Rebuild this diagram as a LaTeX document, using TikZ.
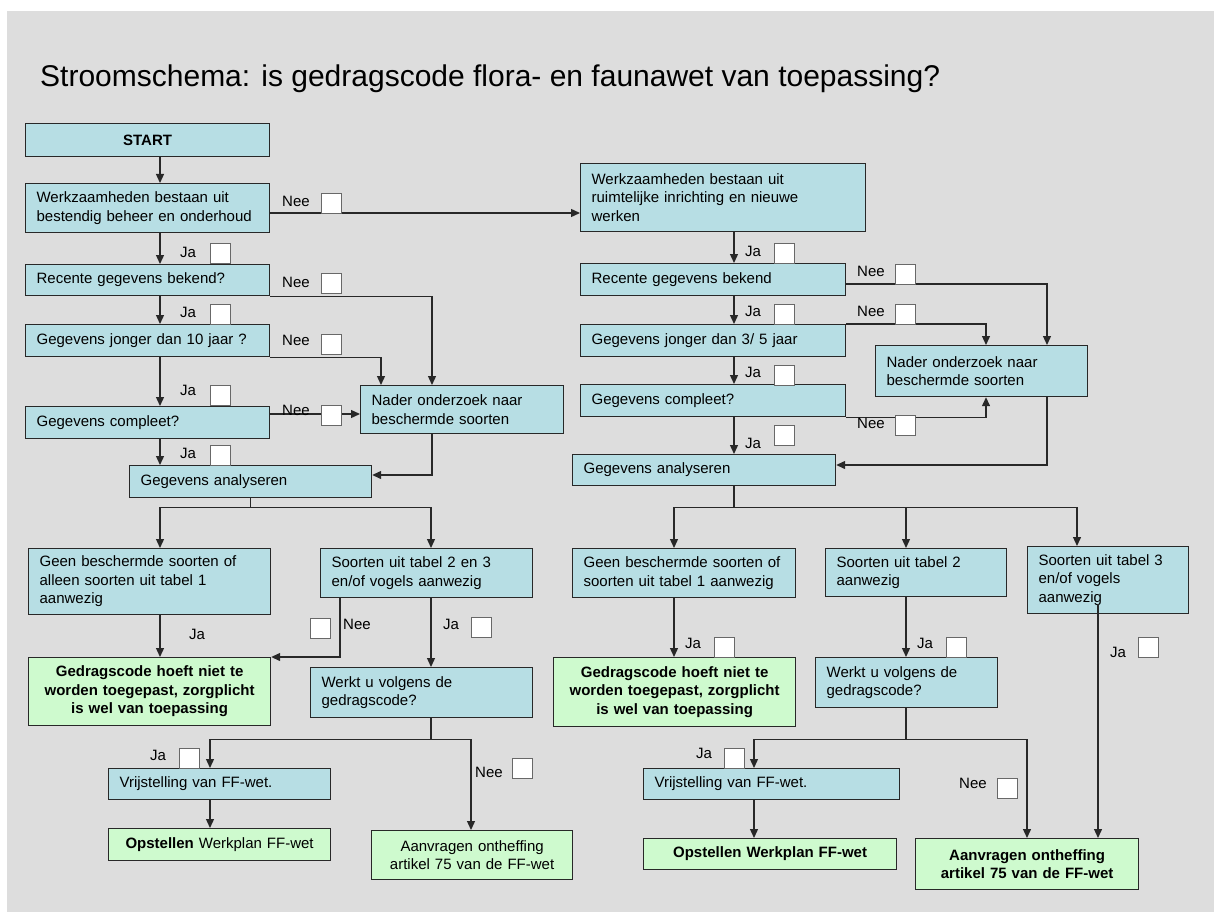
\documentclass[tikz,border=0pt]{standalone}
\usepackage{fontspec}
\setmainfont{Liberation Sans}
\usetikzlibrary{arrows.meta}
\definecolor{blauw}{RGB}{183,222,228}
\definecolor{groen}{RGB}{206,250,206}
\definecolor{achter}{RGB}{221,221,221}
\definecolor{lijn}{RGB}{40,40,40}
\newcommand{\boxfont}{\fontsize{15}{18.5}\selectfont}
\newcommand{\titlefont}{\fontsize{30}{36}\selectfont}

\begin{document}
\begin{tikzpicture}[x=1pt,y=-1pt,
	blok/.style={draw=lijn, fill=blauw, line width=1.2pt, inner xsep=11pt, inner ysep=0pt, anchor=north west, align=left, font=\boxfont},
	eind/.style={blok, fill=groen, align=center, font=\boxfont\bfseries},
	vakje/.style={draw=lijn!70, fill=white, line width=0.8pt, minimum width=20pt, minimum height=20pt, inner sep=0pt, anchor=north west},
	lbl/.style={font=\boxfont, inner sep=0pt, anchor=west},
	pijl/.style={-{Triangle[length=9pt,width=8pt]}, line width=1.3pt, draw=lijn}]
		\useasboundingbox (0,0) rectangle (1214,912);
		\fill[white] (0,0) rectangle (1214,912);
		\fill[achter] (7,11) rectangle (1214,912);
		\node[anchor=base west, inner sep=0pt, font=\titlefont] (titel) at (40,87) {Stroomschema: is gedragscode flora- en faunawet van toepassing?};
		% linker kolom
		\node[blok, align=center, font=\boxfont\bfseries, text width=222pt, minimum height=33pt] (start) at (25,123) {START};
		\node[blok, text width=222pt, minimum height=49pt] (werk1) at (25,183) {Werkzaamheden bestaan uit\\bestendig beheer en onderhoud};
		\node[blok, text width=222pt, minimum height=31pt] (rec1) at (25,264) {Recente gegevens bekend?};
		\node[blok, text width=222pt, minimum height=32pt] (jong1) at (25,324) {Gegevens jonger dan 10 jaar ?};
		\node[blok, text width=222pt, minimum height=32pt] (comp1) at (25,406) {Gegevens compleet?};
		\node[blok, text width=181pt, minimum height=48pt] (nader1) at (360,385) {Nader onderzoek naar\\beschermde soorten};
		\node[blok, text width=220pt, minimum height=32pt] (anal1) at (129,465) {Gegevens analyseren};
		\node[blok, text width=220pt, minimum height=66pt] (geen1) at (28,548) {Geen beschermde soorten of\\alleen soorten uit tabel 1\\aanwezig};
		\node[blok, text width=190pt, minimum height=49pt] (soort1) at (320,548) {Soorten uit tabel 2 en 3\\en/of vogels aanwezig};
		\node[eind, text width=220pt, minimum height=68pt] (gc1) at (28,657) {Gedragscode hoeft niet te\\worden toegepast, zorgplicht\\is wel van toepassing};
		\node[blok, text width=200pt, minimum height=50pt] (werkt1) at (310,667) {Werkt u volgens de\\gedragscode?};
		\node[blok, text width=200pt, minimum height=31pt] (vrij1) at (108,768) {Vrijstelling van FF-wet.};
		\node[eind, font=\boxfont, text width=200pt, minimum height=32pt] (opst1) at (108,828) {\textbf{Opstellen} Werkplan FF-wet};
		\node[eind, font=\boxfont, text width=179pt, minimum height=49pt] (aanv1) at (371,830) {Aanvragen ontheffing\\artikel 75 van de FF-wet};
		% rechter kolom
		\node[blok, text width=263pt, minimum height=68pt] (werk2) at (580,163) {Werkzaamheden bestaan uit\\ruimtelijke inrichting en nieuwe\\werken};
		\node[blok, text width=243pt, minimum height=32pt] (rec2) at (580,263) {Recente gegevens bekend};
		\node[blok, text width=243pt, minimum height=32pt] (jong2) at (580,324) {Gegevens jonger dan 3/ 5 jaar};
		\node[blok, text width=243pt, minimum height=32pt] (comp2) at (580,384) {Gegevens compleet?};
		\node[blok, text width=190pt, minimum height=51pt] (nader2) at (875,345) {Nader onderzoek naar\\beschermde soorten};
		\node[blok, text width=241pt, minimum height=31pt] (anal2) at (572,454) {Gegevens analyseren};
		\node[blok, text width=201pt, minimum height=49pt] (geen2) at (572,548) {Geen beschermde soorten of\\soorten uit tabel 1 aanwezig};
		\node[blok, text width=159pt, minimum height=48pt] (soort2) at (825,548) {Soorten uit tabel 2\\aanwezig};
		\node[blok, text width=139pt, minimum height=67pt] (soort3) at (1027,546) {Soorten uit tabel 3\\en/of vogels\\aanwezig};
		\node[eind, text width=220pt, minimum height=69pt] (gc2) at (553,657) {Gedragscode hoeft niet te\\worden toegepast, zorgplicht\\is wel van toepassing};
		\node[blok, text width=160pt, minimum height=50pt] (werkt2) at (815,657) {Werkt u volgens de\\gedragscode?};
		\node[blok, text width=234pt, minimum height=31pt] (vrij2) at (643,768) {Vrijstelling van FF-wet.};
		\node[eind, text width=231pt, minimum height=31pt] (opst2) at (643,838) {Opstellen Werkplan FF-wet};
		\node[eind, text width=201pt, minimum height=51pt] (aanv2) at (915,838) {Aanvragen ontheffing\\artikel 75 van de FF-wet};
		% hulplijnen
		\coordinate (kL) at (160,0);
		\coordinate (kR) at (734,0);
		\coordinate (kN1) at (432,0);
		\coordinate (kN1a) at (381,0);
		\coordinate (kS1) at (431,0);
		\coordinate (kS1n) at (340,0);
		\coordinate (kV1) at (210,0);
		\coordinate (kA1) at (471,0);
		\coordinate (kN2) at (1047,0);
		\coordinate (kN2a) at (986,0);
		\coordinate (kG2) at (674,0);
		\coordinate (kS2) at (906,0);
		\coordinate (kS3) at (1077,0);
		\coordinate (kS3b) at (1098,0);
		\coordinate (kV2) at (754,0);
		\coordinate (kA2) at (1027,0);
		\coordinate (hW) at (0,213);
		\coordinate (hC1) at (0,414);
		\coordinate (hA1) at (0,475);
		\coordinate (hR2) at (0,284);
		\coordinate (hA2) at (0,465);
		% pijlen links
		\draw[pijl] (start.south -| kL) -- (werk1.north -| kL);
		\draw[pijl] (werk1.south -| kL) -- (rec1.north -| kL);
		\draw[pijl] (rec1.south -| kL) -- (jong1.north -| kL);
		\draw[pijl] (jong1.south -| kL) -- (comp1.north -| kL);
		\draw[pijl] (comp1.south -| kL) -- (anal1.north -| kL);
		\draw[pijl] (werk1.east |- hW) -- (werk2.west |- hW);
		\draw[pijl] (rec1.south east) -| (nader1.north -| kN1);
		\draw[pijl] (jong1.south east) -| (nader1.north -| kN1a);
		\draw[pijl] (comp1.east |- hC1) -- (nader1.west |- hC1);
		\draw[pijl] (nader1.south -| kN1) |- (anal1.east |- hA1);
		\draw[pijl] (anal1.south) -- ++(0,9) -| (geen1.north -| kL);
		\draw[pijl] (anal1.south) -- ++(0,9) -| (soort1.north -| kS1);
		\draw[pijl] (geen1.south -| kL) -- (gc1.north -| kL);
		\draw[pijl] (soort1.south -| kS1n) |- (gc1.north east);
		\draw[pijl] (soort1.south -| kS1) -- (werkt1.north -| kS1);
		\draw[pijl] (werkt1.south -| kS1) -- ++(0,21) -| (vrij1.north -| kV1);
		\draw[pijl] (werkt1.south -| kS1) -- ++(0,21) -| (aanv1.north -| kA1);
		\draw[pijl] (vrij1.south -| kV1) -- (opst1.north -| kV1);
		% pijlen rechts
		\draw[pijl] (werk2.south -| kR) -- (rec2.north -| kR);
		\draw[pijl] (rec2.south -| kR) -- (jong2.north -| kR);
		\draw[pijl] (jong2.south -| kR) -- (comp2.north -| kR);
		\draw[pijl] (comp2.south -| kR) -- (anal2.north -| kR);
		\draw[pijl] (rec2.east |- hR2) -| (nader2.north -| kN2);
		\draw[pijl] (jong2.north east) -| (nader2.north -| kN2a);
		\draw[pijl] (comp2.south east) -| (nader2.south -| kN2a);
		\draw[pijl] (nader2.south -| kN2) |- (anal2.east |- hA2);
		\draw[pijl] (anal2.south -| kR) -- ++(0,21) -| (geen2.north -| kG2);
		\draw[pijl] (anal2.south -| kR) -- ++(0,21) -| (soort2.north -| kS2);
		\draw[pijl] (anal2.south -| kR) -- ++(0,21) -| (soort3.north -| kS3);
		\draw[pijl] (geen2.south -| kG2) -- (gc2.north -| kG2);
		\draw[pijl] (soort2.south -| kS2) -- (werkt2.north -| kS2);
		\draw[pijl] (werkt2.south -| kS2) -- ++(0,31) -| (vrij2.north -| kV2);
		\draw[pijl] (werkt2.south -| kS2) -- ++(0,31) -| (aanv2.north -| kA2);
		\draw[pijl] (vrij2.south -| kV2) -- (opst2.north -| kV2);
		\draw[pijl] (soort3.south -| kS3b) ++(0,-10) -- (aanv2.north -| kS3b);
		% ja / nee links
		\node[lbl] (neeW1) at (282,201) {Nee}; \node[vakje] (vneeW1) at (321,193) {};
		\node[lbl] (jaR1) at (180,252) {Ja}; \node[vakje] (vjaR1) at (210,243) {};
		\node[lbl] (neeR1) at (282,282) {Nee}; \node[vakje] (vneeR1) at (321,273) {};
		\node[lbl] (jaJ1) at (180,312) {Ja}; \node[vakje] (vjaJ1) at (210,304) {};
		\node[lbl] (neeJ1) at (282,340) {Nee}; \node[vakje] (vneeJ1) at (321,334) {};
		\node[lbl] (jaC1) at (180,390) {Ja}; \node[vakje] (vjaC1) at (210,385) {};
		\node[lbl] (neeC1) at (282,410) {Nee}; \node[vakje] (vneeC1) at (321,405) {};
		\node[lbl] (jaA1) at (180,453) {Ja}; \node[vakje] (vjaA1) at (210,445) {};
		\node[lbl] (jaG1) at (189,634) {Ja};
		\node[vakje] (vneeS1) at (310,618) {}; \node[lbl] (neeS1) at (343,624) {Nee};
		\node[lbl] (jaS1) at (443,624) {Ja}; \node[vakje] (vjaS1) at (471,617) {};
		\node[lbl] (jaV1) at (150,755) {Ja}; \node[vakje] (vjaV1) at (179,748) {};
		\node[lbl] (neeA1) at (475,772) {Nee}; \node[vakje] (vneeA1) at (512,758) {};
		% ja / nee rechts
		\node[lbl] (jaR2) at (745,251) {Ja}; \node[vakje] (vjaR2) at (774,243) {};
		\node[lbl] (neeR2) at (857,271) {Nee}; \node[vakje] (vneeR2) at (895,264) {};
		\node[lbl] (jaJ2) at (745,311) {Ja}; \node[vakje] (vjaJ2) at (774,304) {};
		\node[lbl] (neeJ2) at (857,311) {Nee}; \node[vakje] (vneeJ2) at (895,304) {};
		\node[lbl] (jaC2) at (745,372) {Ja}; \node[vakje] (vjaC2) at (774,365) {};
		\node[lbl] (neeC2) at (857,423) {Nee}; \node[vakje] (vneeC2) at (895,415) {};
		\node[lbl] (jaA2) at (745,443) {Ja}; \node[vakje] (vjaA2) at (774,425) {};
		\node[lbl] (jaG2) at (685,643) {Ja}; \node[vakje] (vjaG2) at (714,637) {};
		\node[lbl] (jaS2) at (917,643) {Ja}; \node[vakje] (vjaS2) at (946,637) {};
		\node[lbl] (jaV2) at (696,753) {Ja}; \node[vakje] (vjaV2) at (724,748) {};
		\node[lbl] (neeA2) at (959,783) {Nee}; \node[vakje] (vneeA2) at (997,778) {};
		\node[lbl] (jaS3) at (1110,652) {Ja}; \node[vakje] (vjaS3) at (1138,637) {};
\end{tikzpicture}
\end{document}
